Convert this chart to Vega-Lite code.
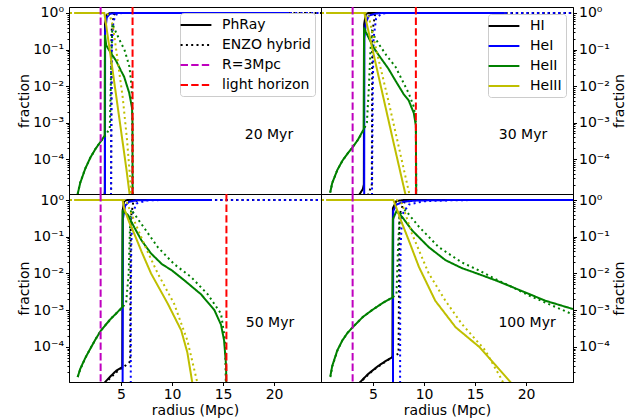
{
  "$schema": "https://vega.github.io/schema/vega-lite/v6.json",
  "background": "white",
  "padding": {"left": 16, "top": 5, "right": 30, "bottom": 5},
  "config": {
    "font": "DejaVu Sans",
    "view": {"stroke": "black", "strokeWidth": 1},
    "axis": {"grid": false, "domainColor": "black", "domainWidth": 1, "tickColor": "black", "tickWidth": 1, "labelColor": "black", "titleColor": "black", "labelFontSize": 14, "titleFontSize": 14, "titleFontWeight": "normal", "labelFont": "DejaVu Sans", "titleFont": "DejaVu Sans"},
    "legend": {"labelFont": "DejaVu Sans", "labelFontSize": 14, "labelColor": "black"}
  },
  "datasets": {
    "p20": [
      {"c":"PhRay","s":"HI","r":3.0,"f":1e-6},{"c":"PhRay","s":"HI","r":3.41,"f":1.3e-5},{"c":"PhRay","s":"HI","r":3.43,"f":0.5},{"c":"PhRay","s":"HI","r":3.6,"f":0.9},{"c":"PhRay","s":"HI","r":3.9,"f":0.99},{"c":"PhRay","s":"HI","r":4.5,"f":1},{"c":"PhRay","s":"HI","r":21.5,"f":1},
      {"c":"ENZO hybrid","s":"HI","r":3.9,"f":1e-6},{"c":"ENZO hybrid","s":"HI","r":4.03,"f":1.5e-5},{"c":"ENZO hybrid","s":"HI","r":4.06,"f":0.3},{"c":"ENZO hybrid","s":"HI","r":4.3,"f":0.9},{"c":"ENZO hybrid","s":"HI","r":4.6,"f":1},{"c":"ENZO hybrid","s":"HI","r":24.6,"f":1},
      {"c":"PhRay","s":"HeI","r":3.42,"f":1e-6},{"c":"PhRay","s":"HeI","r":3.44,"f":0.3},{"c":"PhRay","s":"HeI","r":3.6,"f":0.75},{"c":"PhRay","s":"HeI","r":3.9,"f":0.95},{"c":"PhRay","s":"HeI","r":4.5,"f":1},{"c":"PhRay","s":"HeI","r":21.5,"f":1},
      {"c":"ENZO hybrid","s":"HeI","r":4.0,"f":1e-6},{"c":"ENZO hybrid","s":"HeI","r":4.05,"f":1e-3},{"c":"ENZO hybrid","s":"HeI","r":4.1,"f":0.1},{"c":"ENZO hybrid","s":"HeI","r":4.25,"f":0.6},{"c":"ENZO hybrid","s":"HeI","r":4.6,"f":0.95},{"c":"ENZO hybrid","s":"HeI","r":5.2,"f":1},{"c":"ENZO hybrid","s":"HeI","r":24.6,"f":1},
      {"c":"PhRay","s":"HeII","r":0.75,"f":1.1e-5},{"c":"PhRay","s":"HeII","r":1.0,"f":2.2e-5},{"c":"PhRay","s":"HeII","r":1.5,"f":5.5e-5},{"c":"PhRay","s":"HeII","r":2.0,"f":1.1e-4},{"c":"PhRay","s":"HeII","r":2.5,"f":1.9e-4},{"c":"PhRay","s":"HeII","r":3.0,"f":3e-4},{"c":"PhRay","s":"HeII","r":3.4,"f":4.4e-4},{"c":"PhRay","s":"HeII","r":3.42,"f":0.25},{"c":"PhRay","s":"HeII","r":3.55,"f":0.13},{"c":"PhRay","s":"HeII","r":4.0,"f":0.08},{"c":"PhRay","s":"HeII","r":4.5,"f":0.05},{"c":"PhRay","s":"HeII","r":5.0,"f":0.026},{"c":"PhRay","s":"HeII","r":5.3,"f":0.018},{"c":"PhRay","s":"HeII","r":5.8,"f":0.0065},{"c":"PhRay","s":"HeII","r":6.08,"f":0.0025},{"c":"PhRay","s":"HeII","r":6.12,"f":0.001},{"c":"PhRay","s":"HeII","r":6.14,"f":1e-6},
      {"c":"ENZO hybrid","s":"HeII","r":0.75,"f":1.1e-5},{"c":"ENZO hybrid","s":"HeII","r":1.0,"f":2.3e-5},{"c":"ENZO hybrid","s":"HeII","r":1.5,"f":5.5e-5},{"c":"ENZO hybrid","s":"HeII","r":2.0,"f":1.1e-4},{"c":"ENZO hybrid","s":"HeII","r":2.5,"f":1.9e-4},{"c":"ENZO hybrid","s":"HeII","r":3.0,"f":3e-4},{"c":"ENZO hybrid","s":"HeII","r":3.5,"f":4.5e-4},{"c":"ENZO hybrid","s":"HeII","r":3.9,"f":7e-4},{"c":"ENZO hybrid","s":"HeII","r":4.05,"f":0.05},{"c":"ENZO hybrid","s":"HeII","r":4.15,"f":0.5},{"c":"ENZO hybrid","s":"HeII","r":4.5,"f":0.3},{"c":"ENZO hybrid","s":"HeII","r":5.0,"f":0.15},{"c":"ENZO hybrid","s":"HeII","r":5.33,"f":0.1},{"c":"ENZO hybrid","s":"HeII","r":5.82,"f":0.034},{"c":"ENZO hybrid","s":"HeII","r":6.0,"f":0.012},{"c":"ENZO hybrid","s":"HeII","r":6.1,"f":0.004},{"c":"ENZO hybrid","s":"HeII","r":6.13,"f":1e-4},{"c":"ENZO hybrid","s":"HeII","r":6.14,"f":1e-6},
      {"c":"PhRay","s":"HeIII","r":0.4,"f":1},{"c":"PhRay","s":"HeIII","r":3.36,"f":1},{"c":"PhRay","s":"HeIII","r":3.45,"f":0.7},{"c":"PhRay","s":"HeIII","r":4.0,"f":0.06},{"c":"PhRay","s":"HeIII","r":4.5,"f":0.006},{"c":"PhRay","s":"HeIII","r":5.0,"f":6e-4},{"c":"PhRay","s":"HeIII","r":5.5,"f":6e-5},{"c":"PhRay","s":"HeIII","r":5.9,"f":8e-6},{"c":"PhRay","s":"HeIII","r":6.0,"f":1e-6},
      {"c":"ENZO hybrid","s":"HeIII","r":0.0,"f":1},{"c":"ENZO hybrid","s":"HeIII","r":3.45,"f":1},{"c":"ENZO hybrid","s":"HeIII","r":3.9,"f":0.85},{"c":"ENZO hybrid","s":"HeIII","r":4.19,"f":0.47},{"c":"ENZO hybrid","s":"HeIII","r":4.67,"f":0.05},{"c":"ENZO hybrid","s":"HeIII","r":5.16,"f":0.005},{"c":"ENZO hybrid","s":"HeIII","r":5.59,"f":3.3e-4},{"c":"ENZO hybrid","s":"HeIII","r":5.98,"f":1.4e-5},{"c":"ENZO hybrid","s":"HeIII","r":6.1,"f":1e-6}
    ],
    "p30": [
      {"c":"PhRay","s":"HI","r":3.6,"f":1e-5},{"c":"PhRay","s":"HI","r":4.0,"f":1.5e-5},{"c":"PhRay","s":"HI","r":4.1,"f":2e-5},{"c":"PhRay","s":"HI","r":4.13,"f":0.5},{"c":"PhRay","s":"HI","r":4.3,"f":0.95},{"c":"PhRay","s":"HI","r":4.6,"f":1},{"c":"PhRay","s":"HI","r":17.9,"f":1},
      {"c":"ENZO hybrid","s":"HI","r":4.5,"f":1e-5},{"c":"ENZO hybrid","s":"HI","r":4.88,"f":2e-5},{"c":"ENZO hybrid","s":"HI","r":4.93,"f":0.3},{"c":"ENZO hybrid","s":"HI","r":5.2,"f":0.9},{"c":"ENZO hybrid","s":"HI","r":5.5,"f":1},{"c":"ENZO hybrid","s":"HI","r":24.6,"f":1},
      {"c":"PhRay","s":"HeI","r":4.13,"f":1e-6},{"c":"PhRay","s":"HeI","r":4.15,"f":0.2},{"c":"PhRay","s":"HeI","r":4.3,"f":0.55},{"c":"PhRay","s":"HeI","r":4.6,"f":0.85},{"c":"PhRay","s":"HeI","r":5.3,"f":0.97},{"c":"PhRay","s":"HeI","r":6.0,"f":1},{"c":"PhRay","s":"HeI","r":17.9,"f":1},
      {"c":"ENZO hybrid","s":"HeI","r":4.88,"f":1e-6},{"c":"ENZO hybrid","s":"HeI","r":4.92,"f":1e-4},{"c":"ENZO hybrid","s":"HeI","r":4.98,"f":0.01},{"c":"ENZO hybrid","s":"HeI","r":5.05,"f":0.2},{"c":"ENZO hybrid","s":"HeI","r":5.3,"f":0.7},{"c":"ENZO hybrid","s":"HeI","r":5.8,"f":0.95},{"c":"ENZO hybrid","s":"HeI","r":6.5,"f":1},{"c":"ENZO hybrid","s":"HeI","r":24.6,"f":1},
      {"c":"PhRay","s":"HeII","r":0.8,"f":1.2e-5},{"c":"PhRay","s":"HeII","r":1.0,"f":2.2e-5},{"c":"PhRay","s":"HeII","r":1.5,"f":5e-5},{"c":"PhRay","s":"HeII","r":2.0,"f":9e-5},{"c":"PhRay","s":"HeII","r":2.5,"f":1.4e-4},{"c":"PhRay","s":"HeII","r":3.0,"f":2.1e-4},{"c":"PhRay","s":"HeII","r":3.5,"f":3.3e-4},{"c":"PhRay","s":"HeII","r":4.08,"f":6.5e-4},{"c":"PhRay","s":"HeII","r":4.12,"f":0.4},{"c":"PhRay","s":"HeII","r":4.3,"f":0.3},{"c":"PhRay","s":"HeII","r":5.0,"f":0.12},{"c":"PhRay","s":"HeII","r":5.56,"f":0.07},{"c":"PhRay","s":"HeII","r":6.5,"f":0.03},{"c":"PhRay","s":"HeII","r":7.2,"f":0.014},{"c":"PhRay","s":"HeII","r":8.0,"f":0.006},{"c":"PhRay","s":"HeII","r":8.5,"f":0.004},{"c":"PhRay","s":"HeII","r":9.0,"f":0.0018},{"c":"PhRay","s":"HeII","r":9.2,"f":8e-4},{"c":"PhRay","s":"HeII","r":9.25,"f":1e-6},
      {"c":"ENZO hybrid","s":"HeII","r":0.8,"f":1.2e-5},{"c":"ENZO hybrid","s":"HeII","r":1.0,"f":2.2e-5},{"c":"ENZO hybrid","s":"HeII","r":1.5,"f":5e-5},{"c":"ENZO hybrid","s":"HeII","r":2.0,"f":9e-5},{"c":"ENZO hybrid","s":"HeII","r":2.5,"f":1.4e-4},{"c":"ENZO hybrid","s":"HeII","r":3.0,"f":2.1e-4},{"c":"ENZO hybrid","s":"HeII","r":3.5,"f":3.3e-4},{"c":"ENZO hybrid","s":"HeII","r":4.0,"f":5.5e-4},{"c":"ENZO hybrid","s":"HeII","r":4.4,"f":0.001},{"c":"ENZO hybrid","s":"HeII","r":4.6,"f":0.01},{"c":"ENZO hybrid","s":"HeII","r":4.75,"f":0.1},{"c":"ENZO hybrid","s":"HeII","r":4.9,"f":0.3},{"c":"ENZO hybrid","s":"HeII","r":5.5,"f":0.15},{"c":"ENZO hybrid","s":"HeII","r":6.3,"f":0.07},{"c":"ENZO hybrid","s":"HeII","r":7.19,"f":0.034},{"c":"ENZO hybrid","s":"HeII","r":8.0,"f":0.012},{"c":"ENZO hybrid","s":"HeII","r":8.5,"f":0.0063},{"c":"ENZO hybrid","s":"HeII","r":9.0,"f":0.0027},{"c":"ENZO hybrid","s":"HeII","r":9.2,"f":0.001},{"c":"ENZO hybrid","s":"HeII","r":9.25,"f":1e-6},
      {"c":"PhRay","s":"HeIII","r":0.4,"f":1},{"c":"PhRay","s":"HeIII","r":4.15,"f":1},{"c":"PhRay","s":"HeIII","r":4.25,"f":0.75},{"c":"PhRay","s":"HeIII","r":5.0,"f":0.087},{"c":"PhRay","s":"HeIII","r":6.0,"f":0.005},{"c":"PhRay","s":"HeIII","r":7.0,"f":2.9e-4},{"c":"PhRay","s":"HeIII","r":8.17,"f":1.1e-5},{"c":"PhRay","s":"HeIII","r":8.3,"f":1e-6},
      {"c":"ENZO hybrid","s":"HeIII","r":0.0,"f":1},{"c":"ENZO hybrid","s":"HeIII","r":4.4,"f":1},{"c":"ENZO hybrid","s":"HeIII","r":4.58,"f":0.8},{"c":"ENZO hybrid","s":"HeIII","r":5.5,"f":0.06},{"c":"ENZO hybrid","s":"HeIII","r":6.5,"f":0.004},{"c":"ENZO hybrid","s":"HeIII","r":7.5,"f":2.3e-4},{"c":"ENZO hybrid","s":"HeIII","r":8.56,"f":1.1e-5},{"c":"ENZO hybrid","s":"HeIII","r":8.7,"f":1e-6}
    ],
    "p50": [
      {"c":"PhRay","s":"HI","r":3.3,"f":1e-5},{"c":"PhRay","s":"HI","r":4.0,"f":1.6e-5},{"c":"PhRay","s":"HI","r":4.5,"f":2.2e-5},{"c":"PhRay","s":"HI","r":5.12,"f":2.8e-5},{"c":"PhRay","s":"HI","r":5.16,"f":0.5},{"c":"PhRay","s":"HI","r":5.3,"f":0.95},{"c":"PhRay","s":"HI","r":5.6,"f":1},{"c":"PhRay","s":"HI","r":13.8,"f":1},
      {"c":"ENZO hybrid","s":"HI","r":3.4,"f":1e-5},{"c":"ENZO hybrid","s":"HI","r":4.5,"f":2e-5},{"c":"ENZO hybrid","s":"HI","r":5.5,"f":3.2e-5},{"c":"ENZO hybrid","s":"HI","r":5.9,"f":4e-5},{"c":"ENZO hybrid","s":"HI","r":5.95,"f":0.3},{"c":"ENZO hybrid","s":"HI","r":6.2,"f":0.9},{"c":"ENZO hybrid","s":"HI","r":6.8,"f":1},{"c":"ENZO hybrid","s":"HI","r":24.6,"f":1},
      {"c":"PhRay","s":"HeI","r":5.15,"f":1e-6},{"c":"PhRay","s":"HeI","r":5.18,"f":0.3},{"c":"PhRay","s":"HeI","r":5.4,"f":0.7},{"c":"PhRay","s":"HeI","r":5.8,"f":0.9},{"c":"PhRay","s":"HeI","r":6.5,"f":0.98},{"c":"PhRay","s":"HeI","r":8.0,"f":1},{"c":"PhRay","s":"HeI","r":13.8,"f":1},
      {"c":"ENZO hybrid","s":"HeI","r":5.95,"f":1e-6},{"c":"ENZO hybrid","s":"HeI","r":5.96,"f":1e-3},{"c":"ENZO hybrid","s":"HeI","r":6.0,"f":0.05},{"c":"ENZO hybrid","s":"HeI","r":6.1,"f":0.4},{"c":"ENZO hybrid","s":"HeI","r":6.5,"f":0.8},{"c":"ENZO hybrid","s":"HeI","r":7.5,"f":0.97},{"c":"ENZO hybrid","s":"HeI","r":9.0,"f":1},{"c":"ENZO hybrid","s":"HeI","r":24.6,"f":1},
      {"c":"PhRay","s":"HeII","r":0.75,"f":1.5e-5},{"c":"PhRay","s":"HeII","r":1.0,"f":2.5e-5},{"c":"PhRay","s":"HeII","r":1.5,"f":5e-5},{"c":"PhRay","s":"HeII","r":2.0,"f":9e-5},{"c":"PhRay","s":"HeII","r":2.5,"f":1.6e-4},{"c":"PhRay","s":"HeII","r":3.0,"f":2.7e-4},{"c":"PhRay","s":"HeII","r":3.5,"f":4e-4},{"c":"PhRay","s":"HeII","r":4.0,"f":5.8e-4},{"c":"PhRay","s":"HeII","r":4.5,"f":8e-4},{"c":"PhRay","s":"HeII","r":5.12,"f":0.0012},{"c":"PhRay","s":"HeII","r":5.17,"f":0.5},{"c":"PhRay","s":"HeII","r":5.65,"f":0.4},{"c":"PhRay","s":"HeII","r":6.3,"f":0.18},{"c":"PhRay","s":"HeII","r":7.0,"f":0.08},{"c":"PhRay","s":"HeII","r":7.94,"f":0.035},{"c":"PhRay","s":"HeII","r":9.0,"f":0.018},{"c":"PhRay","s":"HeII","r":10.0,"f":0.012},{"c":"PhRay","s":"HeII","r":11.2,"f":0.0065},{"c":"PhRay","s":"HeII","r":12.84,"f":0.0027},{"c":"PhRay","s":"HeII","r":14.15,"f":0.001},{"c":"PhRay","s":"HeII","r":14.8,"f":4e-4},{"c":"PhRay","s":"HeII","r":15.1,"f":1.5e-4},{"c":"PhRay","s":"HeII","r":15.3,"f":3e-5},{"c":"PhRay","s":"HeII","r":15.35,"f":1e-6},
      {"c":"ENZO hybrid","s":"HeII","r":0.75,"f":1.5e-5},{"c":"ENZO hybrid","s":"HeII","r":1.0,"f":2.4e-5},{"c":"ENZO hybrid","s":"HeII","r":1.5,"f":5e-5},{"c":"ENZO hybrid","s":"HeII","r":2.0,"f":9e-5},{"c":"ENZO hybrid","s":"HeII","r":2.5,"f":1.6e-4},{"c":"ENZO hybrid","s":"HeII","r":3.0,"f":2.7e-4},{"c":"ENZO hybrid","s":"HeII","r":3.5,"f":4e-4},{"c":"ENZO hybrid","s":"HeII","r":4.0,"f":5.8e-4},{"c":"ENZO hybrid","s":"HeII","r":4.5,"f":8e-4},{"c":"ENZO hybrid","s":"HeII","r":5.15,"f":0.0012},{"c":"ENZO hybrid","s":"HeII","r":5.5,"f":0.0016},{"c":"ENZO hybrid","s":"HeII","r":5.75,"f":0.01},{"c":"ENZO hybrid","s":"HeII","r":5.9,"f":0.3},{"c":"ENZO hybrid","s":"HeII","r":6.0,"f":0.55},{"c":"ENZO hybrid","s":"HeII","r":6.96,"f":0.23},{"c":"ENZO hybrid","s":"HeII","r":8.6,"f":0.052},{"c":"ENZO hybrid","s":"HeII","r":10.2,"f":0.018},{"c":"ENZO hybrid","s":"HeII","r":11.86,"f":0.008},{"c":"ENZO hybrid","s":"HeII","r":13.5,"f":0.0027},{"c":"ENZO hybrid","s":"HeII","r":14.8,"f":8e-4},{"c":"ENZO hybrid","s":"HeII","r":15.2,"f":1.5e-4},{"c":"ENZO hybrid","s":"HeII","r":15.33,"f":1e-6},
      {"c":"PhRay","s":"HeIII","r":0.4,"f":1},{"c":"PhRay","s":"HeIII","r":5.15,"f":1},{"c":"PhRay","s":"HeIII","r":5.3,"f":0.6},{"c":"PhRay","s":"HeIII","r":5.8,"f":0.25},{"c":"PhRay","s":"HeIII","r":6.3,"f":0.12},{"c":"PhRay","s":"HeIII","r":7.0,"f":0.04},{"c":"PhRay","s":"HeIII","r":7.94,"f":0.01},{"c":"PhRay","s":"HeIII","r":9.58,"f":0.0015},{"c":"PhRay","s":"HeIII","r":10.9,"f":2.8e-4},{"c":"PhRay","s":"HeIII","r":11.5,"f":7e-5},{"c":"PhRay","s":"HeIII","r":12.0,"f":1e-5},{"c":"PhRay","s":"HeIII","r":12.1,"f":5e-6},
      {"c":"ENZO hybrid","s":"HeIII","r":0.0,"f":1},{"c":"ENZO hybrid","s":"HeIII","r":5.5,"f":1},{"c":"ENZO hybrid","s":"HeIII","r":5.9,"f":0.5},{"c":"ENZO hybrid","s":"HeIII","r":6.5,"f":0.2},{"c":"ENZO hybrid","s":"HeIII","r":7.5,"f":0.045},{"c":"ENZO hybrid","s":"HeIII","r":8.6,"f":0.01},{"c":"ENZO hybrid","s":"HeIII","r":10.2,"f":0.0015},{"c":"ENZO hybrid","s":"HeIII","r":11.5,"f":1.5e-4},{"c":"ENZO hybrid","s":"HeIII","r":12.5,"f":1e-5},{"c":"ENZO hybrid","s":"HeIII","r":12.6,"f":5e-6}
    ],
    "p100": [
      {"c":"PhRay","s":"HI","r":3.6,"f":1e-5},{"c":"PhRay","s":"HI","r":4.5,"f":1.8e-5},{"c":"PhRay","s":"HI","r":5.5,"f":3e-5},{"c":"PhRay","s":"HI","r":6.3,"f":4.2e-5},{"c":"PhRay","s":"HI","r":6.9,"f":5.2e-5},{"c":"PhRay","s":"HI","r":6.95,"f":0.6},{"c":"PhRay","s":"HI","r":7.3,"f":0.95},{"c":"PhRay","s":"HI","r":8.0,"f":1},{"c":"PhRay","s":"HI","r":24.6,"f":1},
      {"c":"ENZO hybrid","s":"HI","r":3.6,"f":1e-5},{"c":"ENZO hybrid","s":"HI","r":5.0,"f":2.3e-5},{"c":"ENZO hybrid","s":"HI","r":6.9,"f":5.3e-5},{"c":"ENZO hybrid","s":"HI","r":7.5,"f":6.5e-5},{"c":"ENZO hybrid","s":"HI","r":7.6,"f":0.4},{"c":"ENZO hybrid","s":"HI","r":8.0,"f":0.85},{"c":"ENZO hybrid","s":"HI","r":9.0,"f":0.98},{"c":"ENZO hybrid","s":"HI","r":10.0,"f":1},{"c":"ENZO hybrid","s":"HI","r":24.6,"f":1},
      {"c":"PhRay","s":"HeI","r":6.95,"f":1e-6},{"c":"PhRay","s":"HeI","r":6.98,"f":0.5},{"c":"PhRay","s":"HeI","r":7.3,"f":0.75},{"c":"PhRay","s":"HeI","r":8.0,"f":0.9},{"c":"PhRay","s":"HeI","r":9.0,"f":0.96},{"c":"PhRay","s":"HeI","r":11.0,"f":0.99},{"c":"PhRay","s":"HeI","r":14.0,"f":1},{"c":"PhRay","s":"HeI","r":24.6,"f":1},
      {"c":"ENZO hybrid","s":"HeI","r":7.65,"f":1e-6},{"c":"ENZO hybrid","s":"HeI","r":7.66,"f":1e-3},{"c":"ENZO hybrid","s":"HeI","r":7.7,"f":0.05},{"c":"ENZO hybrid","s":"HeI","r":7.85,"f":0.4},{"c":"ENZO hybrid","s":"HeI","r":8.5,"f":0.75},{"c":"ENZO hybrid","s":"HeI","r":10.0,"f":0.93},{"c":"ENZO hybrid","s":"HeI","r":13.0,"f":0.99},{"c":"ENZO hybrid","s":"HeI","r":16.0,"f":1},{"c":"ENZO hybrid","s":"HeI","r":24.6,"f":1},
      {"c":"PhRay","s":"HeII","r":0.82,"f":1.6e-5},{"c":"PhRay","s":"HeII","r":1.0,"f":3e-5},{"c":"PhRay","s":"HeII","r":1.5,"f":8e-5},{"c":"PhRay","s":"HeII","r":2.0,"f":1.5e-4},{"c":"PhRay","s":"HeII","r":2.5,"f":2.4e-4},{"c":"PhRay","s":"HeII","r":3.0,"f":3.4e-4},{"c":"PhRay","s":"HeII","r":4.0,"f":6.5e-4},{"c":"PhRay","s":"HeII","r":4.9,"f":0.001},{"c":"PhRay","s":"HeII","r":6.0,"f":0.0016},{"c":"PhRay","s":"HeII","r":6.9,"f":0.0022},{"c":"PhRay","s":"HeII","r":6.95,"f":0.3},{"c":"PhRay","s":"HeII","r":7.3,"f":0.5},{"c":"PhRay","s":"HeII","r":7.84,"f":0.35},{"c":"PhRay","s":"HeII","r":8.82,"f":0.15},{"c":"PhRay","s":"HeII","r":10.46,"f":0.052},{"c":"PhRay","s":"HeII","r":12.1,"f":0.023},{"c":"PhRay","s":"HeII","r":13.7,"f":0.014},{"c":"PhRay","s":"HeII","r":15.4,"f":0.0095},{"c":"PhRay","s":"HeII","r":17.0,"f":0.0065},{"c":"PhRay","s":"HeII","r":18.6,"f":0.0043},{"c":"PhRay","s":"HeII","r":20.3,"f":0.00275},{"c":"PhRay","s":"HeII","r":21.9,"f":0.0018},{"c":"PhRay","s":"HeII","r":24.6,"f":0.00107},
      {"c":"ENZO hybrid","s":"HeII","r":0.82,"f":1.5e-5},{"c":"ENZO hybrid","s":"HeII","r":1.0,"f":2.9e-5},{"c":"ENZO hybrid","s":"HeII","r":1.5,"f":7.8e-5},{"c":"ENZO hybrid","s":"HeII","r":2.0,"f":1.5e-4},{"c":"ENZO hybrid","s":"HeII","r":2.5,"f":2.4e-4},{"c":"ENZO hybrid","s":"HeII","r":3.0,"f":3.4e-4},{"c":"ENZO hybrid","s":"HeII","r":4.0,"f":6.5e-4},{"c":"ENZO hybrid","s":"HeII","r":4.9,"f":0.001},{"c":"ENZO hybrid","s":"HeII","r":6.0,"f":0.0016},{"c":"ENZO hybrid","s":"HeII","r":6.9,"f":0.0022},{"c":"ENZO hybrid","s":"HeII","r":7.3,"f":0.0028},{"c":"ENZO hybrid","s":"HeII","r":7.45,"f":0.05},{"c":"ENZO hybrid","s":"HeII","r":7.6,"f":0.4},{"c":"ENZO hybrid","s":"HeII","r":8.17,"f":0.53},{"c":"ENZO hybrid","s":"HeII","r":9.48,"f":0.19},{"c":"ENZO hybrid","s":"HeII","r":11.44,"f":0.052},{"c":"ENZO hybrid","s":"HeII","r":13.7,"f":0.02},{"c":"ENZO hybrid","s":"HeII","r":15.4,"f":0.012},{"c":"ENZO hybrid","s":"HeII","r":17.0,"f":0.007},{"c":"ENZO hybrid","s":"HeII","r":18.6,"f":0.0043},{"c":"ENZO hybrid","s":"HeII","r":20.3,"f":0.0025},{"c":"ENZO hybrid","s":"HeII","r":21.9,"f":0.0016},{"c":"ENZO hybrid","s":"HeII","r":24.6,"f":7.6e-4},
      {"c":"PhRay","s":"HeIII","r":0.4,"f":1},{"c":"PhRay","s":"HeIII","r":7.0,"f":1},{"c":"PhRay","s":"HeIII","r":7.3,"f":0.6},{"c":"PhRay","s":"HeIII","r":7.8,"f":0.25},{"c":"PhRay","s":"HeIII","r":8.5,"f":0.08},{"c":"PhRay","s":"HeIII","r":9.5,"f":0.015},{"c":"PhRay","s":"HeIII","r":11.1,"f":0.0018},{"c":"PhRay","s":"HeIII","r":13.1,"f":3.4e-4},{"c":"PhRay","s":"HeIII","r":15.4,"f":1e-4},{"c":"PhRay","s":"HeIII","r":17.0,"f":3.2e-5},{"c":"PhRay","s":"HeIII","r":18.6,"f":1e-5},{"c":"PhRay","s":"HeIII","r":18.8,"f":8e-6},
      {"c":"ENZO hybrid","s":"HeIII","r":0.0,"f":1},{"c":"ENZO hybrid","s":"HeIII","r":7.3,"f":1},{"c":"ENZO hybrid","s":"HeIII","r":7.84,"f":0.8},{"c":"ENZO hybrid","s":"HeIII","r":8.82,"f":0.12},{"c":"ENZO hybrid","s":"HeIII","r":10.46,"f":0.01},{"c":"ENZO hybrid","s":"HeIII","r":12.1,"f":0.0018},{"c":"ENZO hybrid","s":"HeIII","r":13.7,"f":4.2e-4},{"c":"ENZO hybrid","s":"HeIII","r":16.0,"f":8e-5},{"c":"ENZO hybrid","s":"HeIII","r":17.5,"f":1.45e-5},{"c":"ENZO hybrid","s":"HeIII","r":17.8,"f":1e-5},{"c":"ENZO hybrid","s":"HeIII","r":18.0,"f":7e-6}
    ]
  },
  "columns": 2,
  "spacing": 0,
  "bounds": "flush",
  "resolve": {"scale": {"x": "independent", "y": "independent", "color": "independent", "strokeDash": "independent"}, "legend": {"color": "independent", "strokeDash": "independent"}},
  "concat": [
    {
      "width": 252, "height": 187,
      "layer": [
        {
          "data": {"name": "p20"},
          "mark": {"type": "line", "strokeWidth": 2, "clip": true},
          "encoding": {
            "x": {"field": "r", "type": "quantitative", "scale": {"domain": [-0.1, 24.6], "nice": false, "zero": false}, "axis": null},
            "y": {"field": "f", "type": "quantitative", "scale": {"type": "log", "domain": [1.1e-5, 1.46], "nice": false}, "axis": {"orient": "left", "title": "fraction", "titleX": -45, "titleY": 93.5, "titleAngle": 270, "titleAlign": "center", "titleBaseline": "middle", "labelPadding": 2, "labelOverlap": false, "values": [1, 0.1, 0.01, 0.001, 0.0001, 2e-5, 3e-5, 4e-5, 5e-5, 6e-5, 7e-5, 8e-5, 9e-5, 2e-4, 3e-4, 4e-4, 5e-4, 6e-4, 7e-4, 8e-4, 9e-4, 0.002, 0.003, 0.004, 0.005, 0.006, 0.007, 0.008, 0.009, 0.02, 0.03, 0.04, 0.05, 0.06, 0.07, 0.08, 0.09, 0.2, 0.3, 0.4, 0.5, 0.6, 0.7, 0.8, 0.9], "labelExpr": "datum.value == 1 ? '10⁰' : datum.value == 0.1 ? '10⁻¹' : datum.value == 0.01 ? '10⁻²' : datum.value == 0.001 ? '10⁻³' : datum.value == 0.0001 ? '10⁻⁴' : ''", "tickSize": {"condition": {"test": "indexof([1, 0.1, 0.01, 0.001, 0.0001], datum.value) >= 0", "value": 3.5}, "value": 2}}},
            "color": {"field": "s", "type": "nominal", "scale": {"domain": ["HI", "HeI", "HeII", "HeIII"], "range": ["#000000", "#0000ff", "#008000", "#bfbf00"]}, "legend": null},
            "strokeDash": {"field": "c", "type": "nominal", "scale": {"domain": ["PhRay", "ENZO hybrid", "R=3Mpc", "light horizon"], "range": [[1, 0], [2, 3.3], [7.4, 3.2], [7.4, 3.2]]}, "legend": {"orient": "top-right", "offset": 6, "title": null, "symbolType": "M-2.2,0H2.2", "symbolSize": 196, "symbolStrokeWidth": 2, "symbolOffset": 4, "labelOffset": 18, "labelFontSize": 14, "labelBaseline": "middle", "rowPadding": 5, "padding": 4, "strokeColor": "#cccccc", "fillColor": "rgba(255,255,255,0.8)", "cornerRadius": 3, "encode": {"symbols": {"update": {"stroke": {"signal": "datum.label == 'R=3Mpc' ? '#bf00bf' : datum.label == 'light horizon' ? '#ff0000' : '#000000'"}}}}}}
          }
        },
        {
          "data": {"values": [{"k": "R=3Mpc", "r": 3.0}]},
          "mark": {"type": "rule", "color": "#bf00bf", "strokeWidth": 2},
          "encoding": {"x": {"field": "r", "type": "quantitative"}, "strokeDash": {"field": "k", "type": "nominal"}}
        },
        {
          "data": {"values": [{"k": "light horizon", "r": 6.13}]},
          "mark": {"type": "rule", "color": "#ff0000", "strokeWidth": 2},
          "encoding": {"x": {"field": "r", "type": "quantitative"}, "strokeDash": {"field": "k", "type": "nominal"}}
        },
        {
          "data": {"values": [{"lab": "20 Myr", "r": 19.5, "f": 4.5e-4}]},
          "mark": {"type": "text", "fontSize": 14, "font": "DejaVu Sans", "color": "black"},
          "encoding": {"x": {"field": "r", "type": "quantitative"}, "y": {"field": "f", "type": "quantitative"}, "text": {"field": "lab"}}
        }
      ]
    },
    {
      "width": 252, "height": 187,
      "layer": [
        {
          "data": {"name": "p30"},
          "mark": {"type": "line", "strokeWidth": 2, "clip": true},
          "encoding": {
            "x": {"field": "r", "type": "quantitative", "scale": {"domain": [-0.1, 24.6], "nice": false, "zero": false}, "axis": null},
            "y": {"field": "f", "type": "quantitative", "scale": {"type": "log", "domain": [1.1e-5, 1.46], "nice": false}, "axis": {"orient": "right", "title": "fraction", "titleX": 46, "titleY": 93.5, "titleAngle": 270, "titleAlign": "center", "titleBaseline": "middle", "labelPadding": 2, "labelOverlap": false, "values": [1, 0.1, 0.01, 0.001, 0.0001, 2e-5, 3e-5, 4e-5, 5e-5, 6e-5, 7e-5, 8e-5, 9e-5, 2e-4, 3e-4, 4e-4, 5e-4, 6e-4, 7e-4, 8e-4, 9e-4, 0.002, 0.003, 0.004, 0.005, 0.006, 0.007, 0.008, 0.009, 0.02, 0.03, 0.04, 0.05, 0.06, 0.07, 0.08, 0.09, 0.2, 0.3, 0.4, 0.5, 0.6, 0.7, 0.8, 0.9], "labelExpr": "datum.value == 1 ? '10⁰' : datum.value == 0.1 ? '10⁻¹' : datum.value == 0.01 ? '10⁻²' : datum.value == 0.001 ? '10⁻³' : datum.value == 0.0001 ? '10⁻⁴' : ''", "tickSize": {"condition": {"test": "indexof([1, 0.1, 0.01, 0.001, 0.0001], datum.value) >= 0", "value": 3.5}, "value": 2}}},
            "color": {"field": "s", "type": "nominal", "scale": {"domain": ["HI", "HeI", "HeII", "HeIII"], "range": ["#000000", "#0000ff", "#008000", "#bfbf00"]}, "legend": {"orient": "top-right", "offset": 7, "title": null, "symbolType": "M-2.2,0H2.2", "symbolSize": 196, "symbolStrokeWidth": 2, "symbolOffset": 4, "labelOffset": 18, "labelFontSize": 14, "labelBaseline": "middle", "rowPadding": 5, "padding": 4, "strokeColor": "#cccccc", "fillColor": "rgba(255,255,255,0.8)", "cornerRadius": 3}},
            "strokeDash": {"field": "c", "type": "nominal", "scale": {"domain": ["PhRay", "ENZO hybrid", "R=3Mpc", "light horizon"], "range": [[1, 0], [2, 3.3], [7.4, 3.2], [7.4, 3.2]]}, "legend": null}
          }
        },
        {
          "data": {"values": [{"k": "R=3Mpc", "r": 3.0}]},
          "mark": {"type": "rule", "color": "#bf00bf", "strokeWidth": 2},
          "encoding": {"x": {"field": "r", "type": "quantitative"}, "strokeDash": {"field": "k", "type": "nominal"}}
        },
        {
          "data": {"values": [{"k": "light horizon", "r": 9.2}]},
          "mark": {"type": "rule", "color": "#ff0000", "strokeWidth": 2},
          "encoding": {"x": {"field": "r", "type": "quantitative"}, "strokeDash": {"field": "k", "type": "nominal"}}
        },
        {
          "data": {"values": [{"lab": "30 Myr", "r": 19.7, "f": 4.5e-4}]},
          "mark": {"type": "text", "fontSize": 14, "font": "DejaVu Sans", "color": "black"},
          "encoding": {"x": {"field": "r", "type": "quantitative"}, "y": {"field": "f", "type": "quantitative"}, "text": {"field": "lab"}}
        }
      ]
    },
    {
      "width": 252, "height": 188,
      "layer": [
        {
          "data": {"name": "p50"},
          "mark": {"type": "line", "strokeWidth": 2, "clip": true},
          "encoding": {
            "x": {"field": "r", "type": "quantitative", "scale": {"domain": [-0.1, 24.6], "nice": false, "zero": false}, "axis": {"title": "radius (Mpc)", "values": [5, 10, 15, 20], "format": "d", "tickSize": 3.5, "labelPadding": 2, "titlePadding": 2, "labelFlush": false}},
            "y": {"field": "f", "type": "quantitative", "scale": {"type": "log", "domain": [1.1e-5, 1.46], "nice": false}, "axis": {"orient": "left", "title": "fraction", "titleX": -45, "titleY": 94, "titleAngle": 270, "titleAlign": "center", "titleBaseline": "middle", "labelPadding": 2, "labelOverlap": false, "values": [1, 0.1, 0.01, 0.001, 0.0001, 2e-5, 3e-5, 4e-5, 5e-5, 6e-5, 7e-5, 8e-5, 9e-5, 2e-4, 3e-4, 4e-4, 5e-4, 6e-4, 7e-4, 8e-4, 9e-4, 0.002, 0.003, 0.004, 0.005, 0.006, 0.007, 0.008, 0.009, 0.02, 0.03, 0.04, 0.05, 0.06, 0.07, 0.08, 0.09, 0.2, 0.3, 0.4, 0.5, 0.6, 0.7, 0.8, 0.9], "labelExpr": "datum.value == 1 ? '10⁰' : datum.value == 0.1 ? '10⁻¹' : datum.value == 0.01 ? '10⁻²' : datum.value == 0.001 ? '10⁻³' : datum.value == 0.0001 ? '10⁻⁴' : ''", "tickSize": {"condition": {"test": "indexof([1, 0.1, 0.01, 0.001, 0.0001], datum.value) >= 0", "value": 3.5}, "value": 2}}},
            "color": {"field": "s", "type": "nominal", "scale": {"domain": ["HI", "HeI", "HeII", "HeIII"], "range": ["#000000", "#0000ff", "#008000", "#bfbf00"]}, "legend": null},
            "strokeDash": {"field": "c", "type": "nominal", "scale": {"domain": ["PhRay", "ENZO hybrid", "R=3Mpc", "light horizon"], "range": [[1, 0], [2, 3.3], [7.4, 3.2], [7.4, 3.2]]}, "legend": null}
          }
        },
        {
          "data": {"values": [{"k": "R=3Mpc", "r": 3.0}]},
          "mark": {"type": "rule", "color": "#bf00bf", "strokeWidth": 2},
          "encoding": {"x": {"field": "r", "type": "quantitative"}, "strokeDash": {"field": "k", "type": "nominal"}}
        },
        {
          "data": {"values": [{"k": "light horizon", "r": 15.33}]},
          "mark": {"type": "rule", "color": "#ff0000", "strokeWidth": 2},
          "encoding": {"x": {"field": "r", "type": "quantitative"}, "strokeDash": {"field": "k", "type": "nominal"}}
        },
        {
          "data": {"values": [{"lab": "50 Myr", "r": 19.6, "f": 4.5e-4}]},
          "mark": {"type": "text", "fontSize": 14, "font": "DejaVu Sans", "color": "black"},
          "encoding": {"x": {"field": "r", "type": "quantitative"}, "y": {"field": "f", "type": "quantitative"}, "text": {"field": "lab"}}
        }
      ]
    },
    {
      "width": 252, "height": 188,
      "layer": [
        {
          "data": {"name": "p100"},
          "mark": {"type": "line", "strokeWidth": 2, "clip": true},
          "encoding": {
            "x": {"field": "r", "type": "quantitative", "scale": {"domain": [-0.1, 24.6], "nice": false, "zero": false}, "axis": {"title": "radius (Mpc)", "values": [5, 10, 15, 20], "format": "d", "tickSize": 3.5, "labelPadding": 2, "titlePadding": 2, "labelFlush": false}},
            "y": {"field": "f", "type": "quantitative", "scale": {"type": "log", "domain": [1.1e-5, 1.46], "nice": false}, "axis": {"orient": "right", "title": "fraction", "titleX": 46, "titleY": 94, "titleAngle": 270, "titleAlign": "center", "titleBaseline": "middle", "labelPadding": 2, "labelOverlap": false, "values": [1, 0.1, 0.01, 0.001, 0.0001, 2e-5, 3e-5, 4e-5, 5e-5, 6e-5, 7e-5, 8e-5, 9e-5, 2e-4, 3e-4, 4e-4, 5e-4, 6e-4, 7e-4, 8e-4, 9e-4, 0.002, 0.003, 0.004, 0.005, 0.006, 0.007, 0.008, 0.009, 0.02, 0.03, 0.04, 0.05, 0.06, 0.07, 0.08, 0.09, 0.2, 0.3, 0.4, 0.5, 0.6, 0.7, 0.8, 0.9], "labelExpr": "datum.value == 1 ? '10⁰' : datum.value == 0.1 ? '10⁻¹' : datum.value == 0.01 ? '10⁻²' : datum.value == 0.001 ? '10⁻³' : datum.value == 0.0001 ? '10⁻⁴' : ''", "tickSize": {"condition": {"test": "indexof([1, 0.1, 0.01, 0.001, 0.0001], datum.value) >= 0", "value": 3.5}, "value": 2}}},
            "color": {"field": "s", "type": "nominal", "scale": {"domain": ["HI", "HeI", "HeII", "HeIII"], "range": ["#000000", "#0000ff", "#008000", "#bfbf00"]}, "legend": null},
            "strokeDash": {"field": "c", "type": "nominal", "scale": {"domain": ["PhRay", "ENZO hybrid", "R=3Mpc", "light horizon"], "range": [[1, 0], [2, 3.3], [7.4, 3.2], [7.4, 3.2]]}, "legend": null}
          }
        },
        {
          "data": {"values": [{"k": "R=3Mpc", "r": 3.0}]},
          "mark": {"type": "rule", "color": "#bf00bf", "strokeWidth": 2},
          "encoding": {"x": {"field": "r", "type": "quantitative"}, "strokeDash": {"field": "k", "type": "nominal"}}
        },
        {
          "data": {"values": [{"lab": "100 Myr", "r": 20.1, "f": 4.5e-4}]},
          "mark": {"type": "text", "fontSize": 14, "font": "DejaVu Sans", "color": "black"},
          "encoding": {"x": {"field": "r", "type": "quantitative"}, "y": {"field": "f", "type": "quantitative"}, "text": {"field": "lab"}}
        }
      ]
    }
  ]
}
